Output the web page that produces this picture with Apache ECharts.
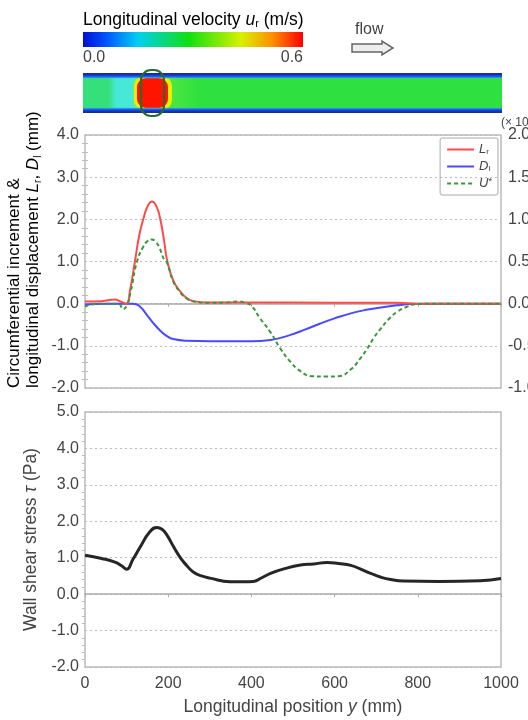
<!DOCTYPE html>
<html>
<head>
<meta charset="utf-8">
<script src="https://cdn.jsdelivr.net/npm/echarts@6/dist/echarts.min.js"></script>
<style>
  html, body { margin: 0; padding: 0; background: #fff; }
  #main { width: 528px; height: 720px; }
</style>
</head>
<body>
<div id="main"></div>
<script>
// circumferential increment L_r (mm)
var lrPos = [0, 40, 72, 85, 100, 108, 120, 130, 140, 150, 161, 172, 181, 190, 197, 212, 229, 245, 261, 290, 400, 600, 750, 800, 1000];
var lrVal = [0.05, 0.06, 0.1, 0.05, 0.0, 0.3, 1.0, 1.6, 2.0, 2.3, 2.42, 2.3, 2.0, 1.5, 1.05, 0.55, 0.29, 0.13, 0.06, 0.03, 0.03, 0.02, 0.02, 0.0, 0.0];

// longitudinal displacement D_l (mm)
var dlPos = [0, 50, 115, 130, 149, 165, 181, 197, 212, 245, 300, 400, 446, 494, 530, 566, 600, 639, 680, 711, 750, 783, 810, 1000];
var dlVal = [-0.02, 0.0, 0.0, -0.05, -0.27, -0.47, -0.64, -0.77, -0.84, -0.88, -0.89, -0.89, -0.86, -0.74, -0.61, -0.47, -0.35, -0.23, -0.14, -0.09, -0.04, -0.01, 0.0, 0.0];

// U* read against the left scale (right axis is half of it)
var usPos = [0, 15, 40, 80, 92, 100, 110, 125, 140, 150, 160, 170, 180, 190, 197, 212, 229, 245, 261, 300, 340, 369, 385, 400, 421, 446, 470, 494, 518, 545, 580, 610, 640, 660, 679, 695, 711, 730, 751, 775, 800, 850, 1000];
var usVal = [-0.07, -0.02, 0.0, 0.0, -0.13, -0.05, 0.3, 1.0, 1.35, 1.48, 1.52, 1.47, 1.3, 1.05, 0.98, 0.53, 0.27, 0.12, 0.05, 0.02, 0.03, 0.05, 0.02, -0.05, -0.35, -0.68, -1.07, -1.38, -1.6, -1.72, -1.73, -1.72, -1.55, -1.32, -1.06, -0.8, -0.59, -0.37, -0.19, -0.07, -0.01, 0.0, 0.0];

// wall shear stress tau (Pa)
var tauPos = [0, 40, 72, 88, 100, 115, 133, 155, 173, 185, 197, 213, 229, 245, 261, 280, 300, 349, 380, 405, 425, 446, 480, 518, 550, 582, 610, 639, 660, 687, 710, 735, 766, 850, 950, 1000];
var tauVal = [1.07, 0.98, 0.88, 0.78, 0.68, 0.95, 1.3, 1.7, 1.83, 1.78, 1.62, 1.3, 1.0, 0.78, 0.6, 0.5, 0.44, 0.34, 0.34, 0.35, 0.45, 0.57, 0.7, 0.8, 0.83, 0.87, 0.84, 0.79, 0.7, 0.57, 0.47, 0.4, 0.36, 0.35, 0.37, 0.43];

function pairs(xs, ys) {
  return xs.map(function (x, i) { return [x, ys[i]]; });
}

var FONT = "'Liberation Sans', Arial, sans-serif";
var TXT = "#444";
var GRIDC = "#bbb";

var chart = echarts.init(document.getElementById("main"));

function fmt1(v) { return v.toFixed(1); }

var splitDotted = { show: true, lineStyle: { color: GRIDC, type: [2, 3], width: 1 } };
var minor = { show: true, splitNumber: 5, length: 3, lineStyle: { color: GRIDC } };
var tickLbl = { formatter: fmt1, fontSize: 16, color: TXT, margin: 6, fontFamily: FONT };

function rich(size) {
  return {
    i: { fontStyle: "italic", fontSize: size, color: TXT, fontFamily: FONT },
    n: { fontSize: size, color: TXT, fontFamily: FONT },
    s: { fontSize: Math.round(size * 0.6), color: TXT, fontFamily: FONT, verticalAlign: "bottom", lineHeight: size }
  };
}

var option = {
  animation: false,
  textStyle: { fontFamily: FONT, color: TXT },
  grid: [
    { left: 85, top: 135, width: 416, height: 253, show: true, borderColor: GRIDC, borderWidth: 1.5, outerBoundsMode: "none", containLabel: false },
    { left: 85, top: 412, width: 416, height: 255, show: true, borderColor: GRIDC, borderWidth: 1.5, outerBoundsMode: "none", containLabel: false }
  ],
  legend: {
    top: 138, right: 30, orient: "vertical",
    borderColor: "#aaa", borderWidth: 1, borderRadius: 2,
    padding: [5, 6, 5, 6], itemGap: 4, itemWidth: 27, itemHeight: 10,
    itemStyle: { opacity: 0 },
    data: ["Lr", "Dl", "U*"],
    formatter: function (name) {
      if (name === "Lr") return "{i|L}{s|r}";
      if (name === "Dl") return "{i|D}{s|l}";
      return "{i|U}{p|*}";
    },
    textStyle: {
      rich: {
        i: { fontStyle: "italic", fontSize: 13, color: TXT },
        s: { fontSize: 8, color: TXT, verticalAlign: "bottom", lineHeight: 12 },
        p: { fontSize: 9, color: TXT, verticalAlign: "top", lineHeight: 12 }
      }
    }
  },
  xAxis: [
    { gridIndex: 0, type: "value", min: 0, max: 1000, interval: 200, position: "bottom",
      axisLine: { show: false, onZero: false }, axisTick: { show: false }, axisLabel: { show: false }, splitLine: { show: false } },
    { gridIndex: 0, type: "value", min: 0, max: 1000, interval: 200, position: "top",
      axisLine: { show: true, onZero: true, lineStyle: { color: "#aaa", width: 1.5 } },
      axisTick: { show: true, inside: true, length: 3, lineStyle: { color: "#aaa" } },
      axisLabel: { show: false }, splitLine: { show: false } },
    { gridIndex: 1, type: "value", min: 0, max: 1000, interval: 200, position: "bottom",
      axisLine: { show: false, onZero: false }, axisTick: { show: false },
      axisLabel: { show: true, margin: 9, fontSize: 16, color: TXT, fontFamily: FONT,
        formatter: function (v) { return String(v); } },
      splitLine: { show: false },
      name: "{n|Longitudinal position }{i|y}{n| (mm)}", nameLocation: "middle", nameGap: 31,
      nameTextStyle: { rich: rich(17.5) } },
    { gridIndex: 1, type: "value", min: 0, max: 1000, interval: 200, position: "top",
      axisLine: { show: true, onZero: true, lineStyle: { color: "#aaa", width: 1.5 } },
      axisTick: { show: true, inside: true, length: 3, lineStyle: { color: "#aaa" } },
      axisLabel: { show: false }, splitLine: { show: false } }
  ],
  yAxis: [
    { gridIndex: 0, type: "value", min: -2, max: 4, interval: 1, position: "left",
      axisLine: { show: false }, axisTick: { show: false }, minorTick: minor,
      axisLabel: tickLbl, splitLine: splitDotted },
    { gridIndex: 0, type: "value", min: -1, max: 2, interval: 0.5, position: "right",
      axisLine: { show: false }, axisTick: { show: false }, minorTick: minor,
      axisLabel: { formatter: fmt1, fontSize: 16, color: TXT, margin: 7, fontFamily: FONT },
      splitLine: { show: false } },
    { gridIndex: 1, type: "value", min: -2, max: 5, interval: 1, position: "left",
      axisLine: { show: false }, axisTick: { show: false }, minorTick: minor,
      axisLabel: tickLbl, splitLine: splitDotted,
      name: "{n|Wall shear stress }{i|τ}{n| (Pa)}",
      nameLocation: "middle", nameRotate: 90, nameGap: 42,
      nameTextStyle: { rich: rich(17.5) } }
  ],
  series: [
    { name: "Lr", type: "line", xAxisIndex: 0, yAxisIndex: 0, data: pairs(lrPos, lrVal),
      smooth: 0.5, showSymbol: false,
      lineStyle: { color: "#ff4a4a", width: 2 }, itemStyle: { color: "#ff4a4a" }, z: 4 },
    { name: "Dl", type: "line", xAxisIndex: 0, yAxisIndex: 0, data: pairs(dlPos, dlVal),
      smooth: 0.5, showSymbol: false,
      lineStyle: { color: "#4a4aff", width: 2 }, itemStyle: { color: "#4a4aff" }, z: 3 },
    { name: "U*", type: "line", xAxisIndex: 0, yAxisIndex: 1, data: pairs(usPos, usVal.map(function (v) { return v / 2; })),
      smooth: 0.5, showSymbol: false,
      lineStyle: { color: "#3c963c", width: 2, type: [4, 3] }, itemStyle: { color: "#3c963c" }, z: 5 },
    { name: "tau", type: "line", xAxisIndex: 2, yAxisIndex: 2, data: pairs(tauPos, tauVal),
      smooth: 0.5, showSymbol: false,
      lineStyle: { color: "#262626", width: 3 }, itemStyle: { color: "#262626" } }
  ],
  graphic: [
    // top panel titles
    { type: "text", x: 24, y: 388, rotation: Math.PI / 2, style: {
        text: "{n|Circumferential increment &}\n{n|longitudinal displacement }{i|L}{s|r}{n|, }{i|D}{s|l}{n| (mm)}",
        rich: rich(17), align: "left", verticalAlign: "middle", lineHeight: 19 } },
    { type: "text", x: 501, y: 117, style: { text: "(× 10", fontSize: 12, fill: TXT, fontFamily: FONT } },
    // colour bar
    { type: "text", left: 83, top: 11, style: {
        text: "{n|Longitudinal velocity }{i|u}{s|r}{n| (m/s)}", rich: rich(17.5) } },
    { type: "rect", shape: { x: 83, y: 32, width: 220, height: 15 }, style: {
        fill: new echarts.graphic.LinearGradient(0, 0, 1, 0, [
          { offset: 0, color: "#0010d0" }, { offset: 0.1, color: "#0050ff" },
          { offset: 0.25, color: "#00d0f0" }, { offset: 0.48, color: "#10e010" },
          { offset: 0.72, color: "#d8f000" }, { offset: 0.86, color: "#ff9000" },
          { offset: 1, color: "#ff0000" }]) } },
    { type: "text", left: 83, top: 50, style: { text: "0.0", fontSize: 16, fill: TXT, fontFamily: FONT } },
    { type: "text", right: 225, top: 50, style: { text: "0.6", fontSize: 16, fill: TXT, fontFamily: FONT } },
    // flow arrow
    { type: "text", left: 355, top: 22, style: { text: "flow", fontSize: 16, fill: TXT, fontFamily: FONT } },
    { type: "polygon", shape: { points: [[352, 44], [382, 44], [382, 41], [393, 48], [382, 55], [382, 52], [352, 52]] },
      style: { fill: "#eee", stroke: "#666", lineWidth: 1.5 } },
    // velocity field
    { type: "rect", shape: { x: 83, y: 73, width: 419, height: 40 }, style: {
        fill: new echarts.graphic.LinearGradient(0, 0, 1, 0, [
          { offset: 0, color: "#34e07a" }, { offset: 0.06, color: "#34e07a" },
          { offset: 0.08, color: "#48e8d8" }, { offset: 0.115, color: "#48e8d8" },
          { offset: 0.13, color: "#80ee60" }, { offset: 0.2, color: "#50e840" },
          { offset: 0.28, color: "#2ee040" }, { offset: 1, color: "#2ee040" }]) } },
    { type: "rect", shape: { x: 134, y: 76, width: 38, height: 34, r: 10 }, style: { fill: "#e8f000" } },
    { type: "rect", shape: { x: 137, y: 78, width: 31, height: 30, r: 9 }, style: { fill: "#ff1400" } },
    { type: "rect", shape: { x: 83, y: 73, width: 419, height: 6 }, style: {
        fill: new echarts.graphic.LinearGradient(0, 0, 0, 1, [
          { offset: 0, color: "#203060" }, { offset: 0.3, color: "#1030d0" },
          { offset: 0.7, color: "#2070f0" }, { offset: 1, color: "rgba(60,220,220,0)" }]) } },
    { type: "rect", shape: { x: 83, y: 107, width: 419, height: 6 }, style: {
        fill: new echarts.graphic.LinearGradient(0, 0, 0, 1, [
          { offset: 0, color: "rgba(60,220,220,0)" }, { offset: 0.3, color: "#2070f0" },
          { offset: 0.7, color: "#1030d0" }, { offset: 1, color: "#203060" }]) } },
    { type: "rect", shape: { x: 141, y: 70, width: 23, height: 46, r: 10 }, style: {
        fill: "none", stroke: "#2a6a2a", lineWidth: 2 } }
  ]
};

chart.setOption(option);
</script>
</body>
</html>
